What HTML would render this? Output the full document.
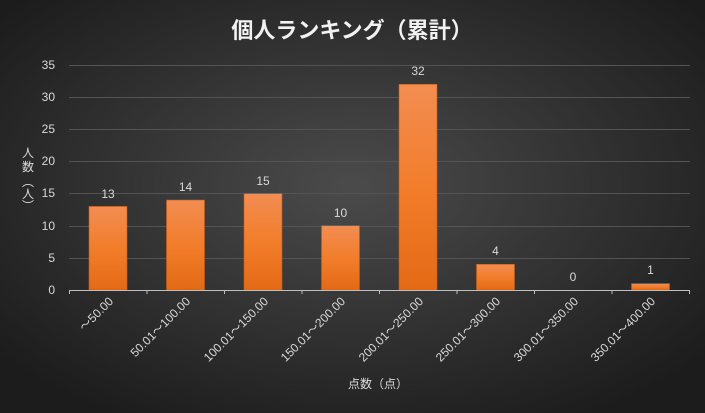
<!DOCTYPE html>
<html><head><meta charset="utf-8"><style>
body{margin:0}
svg{display:block}
text{font-family:"Liberation Sans","Noto Sans CJK JP",sans-serif}
</style></head><body>
<svg width="705" height="413" xmlns="http://www.w3.org/2000/svg">
<defs>
<radialGradient id="bg" cx="50%" cy="45%" r="65%">
<stop offset="0" stop-color="#4b4b4b"/><stop offset="1" stop-color="#1c1c1c"/>
</radialGradient>
<linearGradient id="bar" x1="0" y1="0" x2="0" y2="1">
<stop offset="0" stop-color="#f28d52"/><stop offset="0.5" stop-color="#f27d2b"/><stop offset="1" stop-color="#e46a15"/>
</linearGradient>
</defs>
<rect width="705" height="413" fill="url(#bg)"/>
<text x="352" y="38" text-anchor="middle" font-size="22" font-weight="bold" fill="#f2f2f2">個人ランキング（累計）</text>
<g stroke="#545454" stroke-width="1">
<line x1="69" x2="690" y1="65.5" y2="65.5"/><line x1="69" x2="690" y1="97.5" y2="97.5"/>
<line x1="69" x2="690" y1="129.5" y2="129.5"/><line x1="69" x2="690" y1="161.5" y2="161.5"/>
<line x1="69" x2="690" y1="193.5" y2="193.5"/><line x1="69" x2="690" y1="226.5" y2="226.5"/>
<line x1="69" x2="690" y1="258.5" y2="258.5"/>
</g>
<g fill="#d9d9d9" font-size="12" text-anchor="end">
<text x="55" y="69">35</text><text x="55" y="101">30</text><text x="55" y="133">25</text>
<text x="55" y="165">20</text><text x="55" y="197">15</text><text x="55" y="230">10</text>
<text x="55" y="262">5</text><text x="55" y="294">0</text>
</g>
<g fill="#d9d9d9" font-size="12" text-anchor="middle">
<text x="28" y="157">人</text><text x="28" y="171">数</text>
<text x="28" y="186">︵</text><text x="28" y="198">人</text><text x="28" y="210">︶</text>
</g>
<g fill="url(#bar)" stroke="#c45a14" stroke-width="0.6">
<rect x="89" y="206.4" width="38" height="83.6"/>
<rect x="166.5" y="200" width="38" height="90"/>
<rect x="244" y="193.6" width="38" height="96.4"/>
<rect x="321.5" y="225.7" width="38" height="64.3"/>
<rect x="399" y="84.3" width="38" height="205.7"/>
<rect x="476.5" y="264.3" width="38" height="25.7"/>
<rect x="631.5" y="283.6" width="38" height="6.4"/>
</g>
<g stroke="#bfbfbf" stroke-width="1">
<line x1="69" x2="690" y1="290.5" y2="290.5"/>
<line x1="69.5" x2="69.5" y1="290" y2="294"/><line x1="147" x2="147" y1="290" y2="294"/>
<line x1="224.5" x2="224.5" y1="290" y2="294"/><line x1="302" x2="302" y1="290" y2="294"/>
<line x1="379.5" x2="379.5" y1="290" y2="294"/><line x1="457" x2="457" y1="290" y2="294"/>
<line x1="534.5" x2="534.5" y1="290" y2="294"/><line x1="612" x2="612" y1="290" y2="294"/>
<line x1="689.5" x2="689.5" y1="290" y2="294"/>
</g>
<g fill="#d9d9d9" font-size="12" text-anchor="middle">
<text x="108" y="198">13</text><text x="185.5" y="191">14</text><text x="263" y="185">15</text>
<text x="340.5" y="217">10</text><text x="418" y="75">32</text><text x="495.5" y="255">4</text>
<text x="573" y="281">0</text><text x="650.5" y="274">1</text>
</g>
<g fill="#d9d9d9" font-size="12" text-anchor="end">
<text transform="translate(114,302) rotate(-45)">～50.00</text>
<text transform="translate(191,302) rotate(-45)">50.01～100.00</text>
<text transform="translate(269,302) rotate(-45)">100.01～150.00</text>
<text transform="translate(346,302) rotate(-45)">150.01～200.00</text>
<text transform="translate(424,302) rotate(-45)">200.01～250.00</text>
<text transform="translate(501,302) rotate(-45)">250.01～300.00</text>
<text transform="translate(579,302) rotate(-45)">300.01～350.00</text>
<text transform="translate(656,302) rotate(-45)">350.01～400.00</text>
</g>
<text x="378" y="388" text-anchor="middle" font-size="12" fill="#d9d9d9">点数（点）</text>
</svg>
</body></html>
